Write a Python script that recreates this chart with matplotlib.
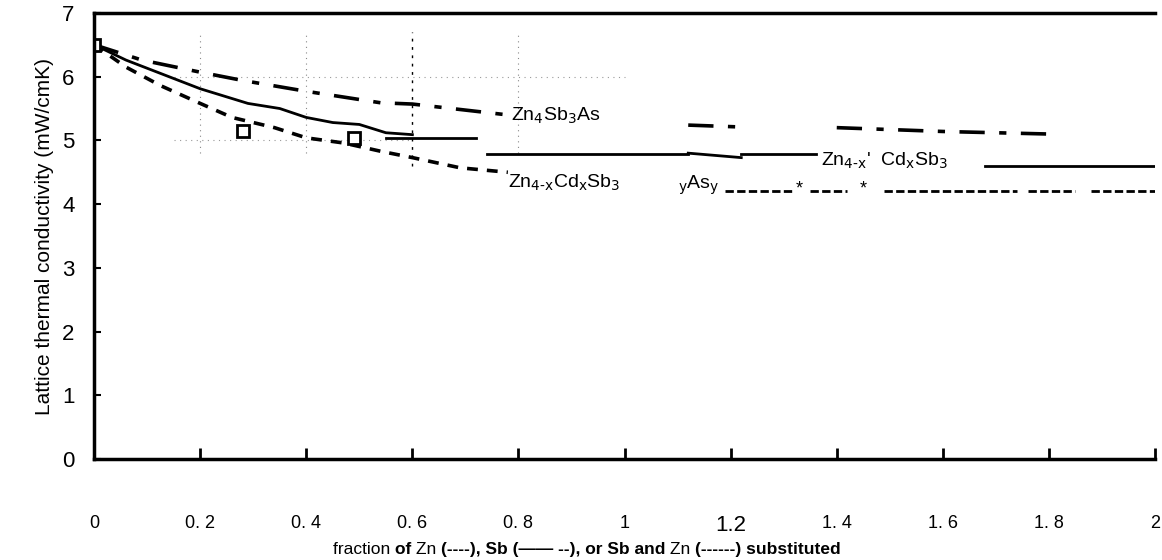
import numpy as np
import matplotlib
matplotlib.use('Agg')
import matplotlib.pyplot as plt
from matplotlib.offsetbox import TextArea, HPacker, AnchoredOffsetbox

plt.rcParams['font.family'] = ['Liberation Sans', 'DejaVu Sans']

# Sb substituted by As (dash-dot)
x_as = [0, 0.03, 0.09, 0.2, 0.28, 0.4, 0.54, 0.6, 0.79]
y_as = [6.5, 6.42, 6.26, 6.07, 5.94, 5.77, 5.59, 5.57, 5.39]
x_as2 = [1.12, 1.22]
y_as2 = [5.24, 5.21]
x_as3 = [1.40, 1.6, 1.8]
y_as3 = [5.20, 5.14, 5.10]

# Zn and Sb substituted (solid)
x_mix = [0, 0.06, 0.2, 0.29, 0.35, 0.4, 0.45, 0.5, 0.55, 0.6]
y_mix = [6.5, 6.26, 5.81, 5.58, 5.5, 5.36, 5.28, 5.25, 5.12, 5.09]
x_mix_flat = [[0.55, 0.72], [0.74, 1.12], [1.12, 1.22], [1.22, 1.36], [1.68, 2.0]]
y_mix_flat = [[5.04, 5.04], [4.78, 4.78], [4.80, 4.73], [4.78, 4.78], [4.60, 4.60]]

# Zn substituted by Cd (dashed)
x_cd = [0, 0.06, 0.125, 0.2, 0.26, 0.34, 0.4, 0.47, 0.54, 0.6, 0.69, 0.78]
y_cd = [6.5, 6.15, 5.86, 5.58, 5.36, 5.2, 5.04, 4.96, 4.83, 4.73, 4.57, 4.5]
x_cd_tail = [[1.19, 1.32], [1.35, 1.42], [1.49, 1.74], [1.76, 1.85], [1.88, 2.0]]
y_cd_tail = [[4.2, 4.2], [4.2, 4.2], [4.2, 4.2], [4.2, 4.2], [4.2, 4.2]]

# measured points (squares)
x_pts = [0, 0.28, 0.49]
y_pts = [6.5, 5.15, 5.03]

x_ticks = [0, 0.2, 0.4, 0.6, 0.8, 1, 1.2, 1.4, 1.6, 1.8, 2]
x_labels = ['0', '0. 2', '0. 4', '0. 6', '0. 8', '1', '1.2', '1. 4', '1. 6', '1. 8', '2']
y_ticks = [0, 1, 2, 3, 4, 5, 6, 7]

fig = plt.figure(figsize=(11.62, 5.6), dpi=100)
ax = fig.add_axes([0.081, 0.18, 0.913, 0.797])

# sparse dotted grid
for gx in [0.2, 0.4, 0.8]:
    ax.plot([gx, gx], [4.8, 6.7], color='#888888', lw=0.8, ls=(0, (1, 4)))
ax.plot([0.6, 0.6], [4.6, 6.7], color='black', lw=1.0, ls=(0, (2, 4)))
ax.plot([0.15, 1.0], [6.0, 6.0], color='#999999', lw=0.8, ls=(0, (1, 4)))
ax.plot([0.15, 0.6], [5.0, 5.0], color='#999999', lw=0.8, ls=(0, (1, 4)))

ax.plot(x_as, y_as, color='black', lw=2.6, ls=(0, (7, 4, 2, 4)))
ax.plot(x_as2, y_as2, color='black', lw=2.6, ls=(0, (7, 4, 2, 4)))
ax.plot(x_as3, y_as3, color='black', lw=2.6, ls=(0, (7, 4, 2, 4)))

ax.plot(x_mix, y_mix, color='black', lw=2.0)
for xs, ys in zip(x_mix_flat, y_mix_flat):
    ax.plot(xs, ys, color='black', lw=2.0)

ax.plot(x_cd, y_cd, color='black', lw=2.6, ls=(0, (3, 2.5)))
for xs, ys in zip(x_cd_tail, y_cd_tail):
    ax.plot(xs, ys, color='black', lw=2.0, ls=(0, (3, 1.2)))

ax.plot(x_pts, y_pts, ls='none', marker='s', ms=9, mfc='white', mec='black', mew=2)

ax.text(0.785, 5.39, r'Zn$_4$Sb$_3$As', fontsize=14, va='center', ha='left')
ax.text(0.78, 4.33, r'Zn$_{4\text{-}\mathrm{x}}$Cd$_\mathrm{x}$Sb$_3$', fontsize=14, va='center', ha='left')
ax.text(1.1, 4.3, r'$_\mathrm{y}$As$_\mathrm{y}$', fontsize=14, va='center', ha='left')
ax.text(1.33, 4.24, '*', fontsize=13, va='center', ha='center')
ax.text(1.45, 4.24, '*', fontsize=13, va='center', ha='center')
ax.text(1.37, 4.68, r"Zn$_{4\text{-}\mathrm{x}}$'  Cd$_\mathrm{x}$Sb$_3$", fontsize=14, va='center', ha='left')

ax.set_xlim(0, 2)
ax.set_ylim(0, 7)
ax.set_xticks(x_ticks)
ax.set_xticklabels(x_labels, fontsize=13)
ax.get_xticklabels()[6].set_fontsize(16)
ax.set_yticks(y_ticks)
ax.tick_params(axis='y', labelsize=16, direction='in', length=5, width=1.5, pad=14)
ax.tick_params(axis='x', direction='in', length=8, width=2, pad=40)
ax.spines['right'].set_visible(False)
for s in ['left', 'bottom', 'top']:
    ax.spines[s].set_linewidth(2.5)
ax.set_ylabel('Lattice thermal conductivity (mW/cmK)', fontsize=15, labelpad=6)

parts = [('fraction ', 'normal'), ('of ', 'bold'), ('Zn ', 'normal'), ('(----), Sb (—— --), or Sb and ', 'bold'),
         ('Zn ', 'normal'), ('(------) substituted', 'bold')]
boxes = [TextArea(t, textprops=dict(fontsize=12.5, fontweight=w)) for t, w in parts]
pack = HPacker(children=boxes, align='baseline', pad=0, sep=0)
anch = AnchoredOffsetbox(loc='lower center', child=pack, frameon=False, pad=0, borderpad=0,
                         bbox_to_anchor=(0.505, 0.005), bbox_transform=fig.transFigure)
fig.add_artist(anch)

fig.savefig('out.png', dpi=100)
